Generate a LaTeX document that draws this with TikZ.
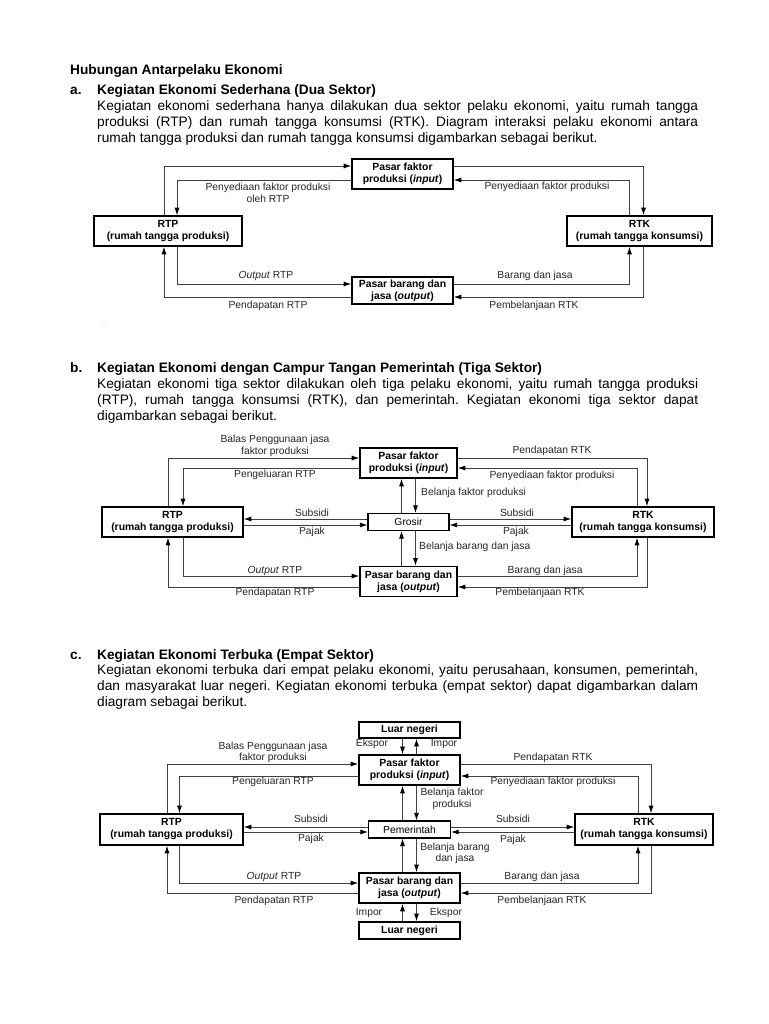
\documentclass[tikz,border=0pt]{standalone}
\usepackage{fontspec}
\setmainfont{Liberation Sans}
\usetikzlibrary{arrows.meta,calc}
\newcommand\justline[1]{\hbox to 601pt{#1}}
\frenchspacing
\begin{document}
\begin{tikzpicture}[x=1pt,y=-1pt,
  body/.style={anchor=base west,inner sep=0pt,font=\fontsize{13.7}{16}\selectfont\frenchspacing},
  head/.style={anchor=base west,inner sep=0pt,font=\fontsize{13.7}{16}\selectfont\bfseries},
  box/.style={draw,line width=1.7pt,inner sep=0pt,align=center,font=\fontsize{10.4}{12}\selectfont\bfseries},
  lbl/.style={inner sep=0pt,align=center,font=\fontsize{10.3}{11.5}\selectfont,text=black!85},
  conn/.style={line width=0.75pt,draw=black!75,-{Latex[length=7.5pt,width=5pt,fill=black,color=black]}},
]
\useasboundingbox[fill=white] (0,0) rectangle (768,1024);

% ---------- texts ----------
\node[head] (title) at (70,75) {Hubungan Antarpelaku Ekonomi};
\node[head] (alab) at (70,95) {a.};
\node[head] (ahead) at (97,95) {Kegiatan Ekonomi Sederhana (Dua Sektor)};
\node[body] (a1) at (97,111) {\justline{Kegiatan ekonomi sederhana hanya dilakukan dua sektor pelaku ekonomi, yaitu rumah tangga}};
\node[body] (a2) at (97,127) {\justline{produksi (RTP) dan rumah tangga konsumsi (RTK). Diagram interaksi pelaku ekonomi antara}};
\node[body] (a3) at (97,143) {rumah tangga produksi dan rumah tangga konsumsi digambarkan sebagai berikut.};

\node[head] (blab) at (70,372) {b.};
\node[head] (bhead) at (97,372) {Kegiatan Ekonomi dengan Campur Tangan Pemerintah (Tiga Sektor)};
\node[body] (b1) at (97,388) {\justline{Kegiatan ekonomi tiga sektor dilakukan oleh tiga pelaku ekonomi, yaitu rumah tangga produksi}};
\node[body] (b2) at (97,404) {\justline{(RTP), rumah tangga konsumsi (RTK), dan pemerintah. Kegiatan ekonomi tiga sektor dapat}};
\node[body] (b3) at (97,420) {digambarkan sebagai berikut.};

\node[head] (clab) at (70,659) {c.};
\node[head] (chead) at (97,659) {Kegiatan Ekonomi Terbuka (Empat Sektor)};
\node[body] (c1) at (97,674) {\justline{Kegiatan ekonomi terbuka dari empat pelaku ekonomi, yaitu perusahaan, konsumen, pemerintah,}};
\node[body] (c2) at (97,690) {\justline{dan masyarakat luar negeri. Kegiatan ekonomi terbuka (empat sektor) dapat digambarkan dalam}};
\node[body] (c3) at (97,706) {diagram sebagai berikut.};

% ---------- diagram a ----------
\node[box,minimum width=101pt,minimum height=30pt] (PFa) at (402.5,174) {Pasar faktor\\produksi (\textit{input})};
\node[box,minimum width=101pt,minimum height=27pt] (PBa) at (402.5,290.5) {Pasar barang dan\\jasa (\textit{output})};
\node[box,minimum width=148pt,minimum height=30pt] (RTPa) at (168,231) {RTP\\(rumah tangga produksi)};
\node[box,minimum width=145pt,minimum height=30pt] (RTKa) at (639.5,231) {RTK\\(rumah tangga konsumsi)};

\draw[conn] ([xshift=-4pt]RTPa.north) |- ([yshift=8pt]PFa.west);
\draw[conn] ([yshift=-6pt]PFa.west) -| ([xshift=9pt]RTPa.north);
\draw[conn] ([yshift=8pt]PFa.east) -| ([xshift=4pt]RTKa.north);
\draw[conn] ([xshift=-10pt]RTKa.north) |- ([yshift=-6pt]PFa.east);
\draw[conn] ([xshift=9pt]RTPa.south) |- ([yshift=6.5pt]PBa.west);
\draw[conn] ([yshift=-6.5pt]PBa.west) -| ([xshift=-4pt]RTPa.south);
\draw[conn] ([yshift=6.5pt]PBa.east) -| ([xshift=-10pt]RTKa.south);
\draw[conn] ([xshift=4pt]RTKa.south) |- ([yshift=-6.5pt]PBa.east);

\node[lbl] (la1) at (268,193) {Penyediaan faktor produksi\\oleh RTP};
\node[lbl] (la2) at (547,187) {Penyediaan faktor produksi};
\node[lbl] (la3) at (266,276) {\textit{Output} RTP};
\node[lbl] (la4) at (535,276) {Barang dan jasa};
\node[lbl] (la5) at (268,306) {Pendapatan RTP};
\node[lbl] (la6) at (534,306) {Pembelanjaan RTK};
\node[lbl,text=black!50,font=\fontsize{6}{6}\selectfont] (dots) at (104,326) {. .};

% ---------- diagram b ----------
\node[box,minimum width=97pt,minimum height=30pt] (PFb) at (408.5,463) {Pasar faktor\\produksi (\textit{input})};
\node[box,line width=1.2pt,minimum width=81pt,minimum height=17pt,font=\fontsize{10.3}{12}\selectfont] (Grb) at (408.5,522) {Grosir};
\node[box,minimum width=97pt,minimum height=30pt] (PBb) at (408.5,581.5) {Pasar barang dan\\jasa (\textit{output})};
\node[box,minimum width=141pt,minimum height=30pt] (RTPb) at (172.5,522) {RTP\\(rumah tangga produksi)};
\node[box,minimum width=142pt,minimum height=30pt] (RTKb) at (643,522) {RTK\\(rumah tangga konsumsi)};

\draw[conn] ([xshift=-4.5pt]RTPb.north) |- ([yshift=5pt]PFb.west);
\draw[conn] ([yshift=-5pt]PFb.west) -| ([xshift=10.5pt]RTPb.north);
\draw[conn] ([yshift=5pt]PFb.east) -| ([xshift=4pt]RTKb.north);
\draw[conn] ([xshift=-6pt]RTKb.north) |- ([yshift=-5pt]PFb.east);
\draw[conn] ([yshift=3pt]Grb.west) -- ([yshift=3pt]RTPb.east);
\draw[conn] ([yshift=-3pt]RTPb.east) -- ([yshift=-3pt]Grb.west);
\draw[conn] ([yshift=3pt]Grb.east) -- ([yshift=3pt]RTKb.west);
\draw[conn] ([yshift=-3pt]RTKb.west) -- ([yshift=-3pt]Grb.east);
\draw[conn] ([xshift=-7pt]Grb.north) -- ([xshift=-7pt]PFb.south);
\draw[conn] ([xshift=7pt]PFb.south) -- ([xshift=7pt]Grb.north);
\draw[conn] ([xshift=-7pt]PBb.north) -- ([xshift=-7pt]Grb.south);
\draw[conn] ([xshift=7pt]Grb.south) -- ([xshift=7pt]PBb.north);
\draw[conn] ([xshift=10.5pt]RTPb.south) |- ([yshift=5.5pt]PBb.west);
\draw[conn] ([yshift=-5.5pt]PBb.west) -| ([xshift=-4.5pt]RTPb.south);
\draw[conn] ([yshift=5.5pt]PBb.east) -| ([xshift=-6pt]RTKb.south);
\draw[conn] ([xshift=4pt]RTKb.south) |- ([yshift=-5.5pt]PBb.east);

\node[lbl] (lb1) at (275,446) {Balas Penggunaan jasa\\faktor produksi};
\node[lbl] (lb2) at (275,475) {Pengeluaran RTP};
\node[lbl] (lb3) at (312,513) {Subsidi};
\node[lbl] (lb4) at (312,532) {Pajak};
\node[lbl] (lb5) at (275,571) {\textit{Output} RTP};
\node[lbl] (lb6) at (275,593) {Pendapatan RTP};
\node[lbl] (lb7) at (552,451) {Pendapatan RTK};
\node[lbl] (lb8) at (552,476) {Penyediaan faktor produksi};
\node[lbl,anchor=west] (lb9) at (421,493) {Belanja faktor produksi};
\node[lbl] (lb10) at (517,513) {Subsidi};
\node[lbl] (lb11) at (516,532) {Pajak};
\node[lbl,anchor=west] (lb12) at (419,547) {Belanja barang dan jasa};
\node[lbl] (lb13) at (545,571) {Barang dan jasa};
\node[lbl] (lb14) at (540,593) {Pembelanjaan RTK};

% ---------- diagram c ----------
\node[box,minimum width=101pt,minimum height=16pt] (LNt) at (409.5,730) {Luar negeri};
\node[box,minimum width=101pt,minimum height=30pt] (PFc) at (409.5,770) {Pasar faktor\\produksi (\textit{input})};
\node[box,line width=1.2pt,minimum width=82pt,minimum height=17pt,font=\fontsize{10.3}{12}\selectfont] (Pemc) at (409.5,829.5) {Pemerintah};
\node[box,minimum width=101pt,minimum height=30pt] (PBc) at (409.5,888) {Pasar barang dan\\jasa (\textit{output})};
\node[box,minimum width=101pt,minimum height=17pt] (LNb) at (409.5,930.5) {Luar negeri};
\node[box,minimum width=143pt,minimum height=31pt] (RTPc) at (171.5,829.5) {RTP\\(rumah tangga produksi)};
\node[box,minimum width=138pt,minimum height=31pt] (RTKc) at (644,829.5) {RTK\\(rumah tangga konsumsi)};

\draw[conn] ([xshift=-7pt]LNt.south) -- ([xshift=-7pt]PFc.north);
\draw[conn] ([xshift=7pt]PFc.north) -- ([xshift=7pt]LNt.south);
\draw[conn] ([xshift=-7pt]LNb.north) -- ([xshift=-7pt]PBc.south);
\draw[conn] ([xshift=7pt]PBc.south) -- ([xshift=7pt]LNb.north);
\draw[conn] ([xshift=-4.5pt]RTPc.north) |- ([yshift=6pt]PFc.west);
\draw[conn] ([yshift=-6pt]PFc.west) -| ([xshift=8pt]RTPc.north);
\draw[conn] ([yshift=6pt]PFc.east) -| ([xshift=7pt]RTKc.north);
\draw[conn] ([xshift=-6pt]RTKc.north) |- ([yshift=-6pt]PFc.east);
\draw[conn] ([yshift=2.5pt]Pemc.west) -- ([yshift=2.5pt]RTPc.east);
\draw[conn] ([yshift=-2.5pt]RTPc.east) -- ([yshift=-2.5pt]Pemc.west);
\draw[conn] ([yshift=2.5pt]Pemc.east) -- ([yshift=2.5pt]RTKc.west);
\draw[conn] ([yshift=-2.5pt]RTKc.west) -- ([yshift=-2.5pt]Pemc.east);
\draw[conn] ([xshift=-7pt]Pemc.north) -- ([xshift=-7pt]PFc.south);
\draw[conn] ([xshift=7pt]PFc.south) -- ([xshift=7pt]Pemc.north);
\draw[conn] ([xshift=-7pt]PBc.north) -- ([xshift=-7pt]Pemc.south);
\draw[conn] ([xshift=7pt]Pemc.south) -- ([xshift=7pt]PBc.north);
\draw[conn] ([xshift=8pt]RTPc.south) |- ([yshift=5pt]PBc.west);
\draw[conn] ([yshift=-5pt]PBc.west) -| ([xshift=-4.5pt]RTPc.south);
\draw[conn] ([yshift=5pt]PBc.east) -| ([xshift=-6pt]RTKc.south);
\draw[conn] ([xshift=7pt]RTKc.south) |- ([yshift=-5pt]PBc.east);

\node[lbl] (lc1) at (372,744) {Ekspor};
\node[lbl] (lc2) at (444,744) {Impor};
\node[lbl] (lc3) at (369,913) {Impor};
\node[lbl] (lc4) at (446,913) {Ekspor};
\node[lbl] (lc5) at (273,752.5) {Balas Penggunaan jasa\\faktor produksi};
\node[lbl] (lc6) at (273,782) {Pengeluaran RTP};
\node[lbl] (lc7) at (311,819) {Subsidi};
\node[lbl] (lc8) at (311,839) {Pajak};
\node[lbl] (lc9) at (274,877) {\textit{Output} RTP};
\node[lbl] (lc10) at (274,901) {Pendapatan RTP};
\node[lbl] (lc11) at (553,758) {Pendapatan RTK};
\node[lbl] (lc12) at (553,782) {Penyediaan faktor produksi};
\node[lbl] (lc13) at (452,799) {Belanja faktor\\produksi};
\node[lbl] (lc14) at (513,819) {Subsidi};
\node[lbl] (lc15) at (513,840) {Pajak};
\node[lbl] (lc16) at (455,853.5) {Belanja barang\\dan jasa};
\node[lbl] (lc17) at (542,877) {Barang dan jasa};
\node[lbl] (lc18) at (542,901) {Pembelanjaan RTK};
\end{tikzpicture}
\end{document}
